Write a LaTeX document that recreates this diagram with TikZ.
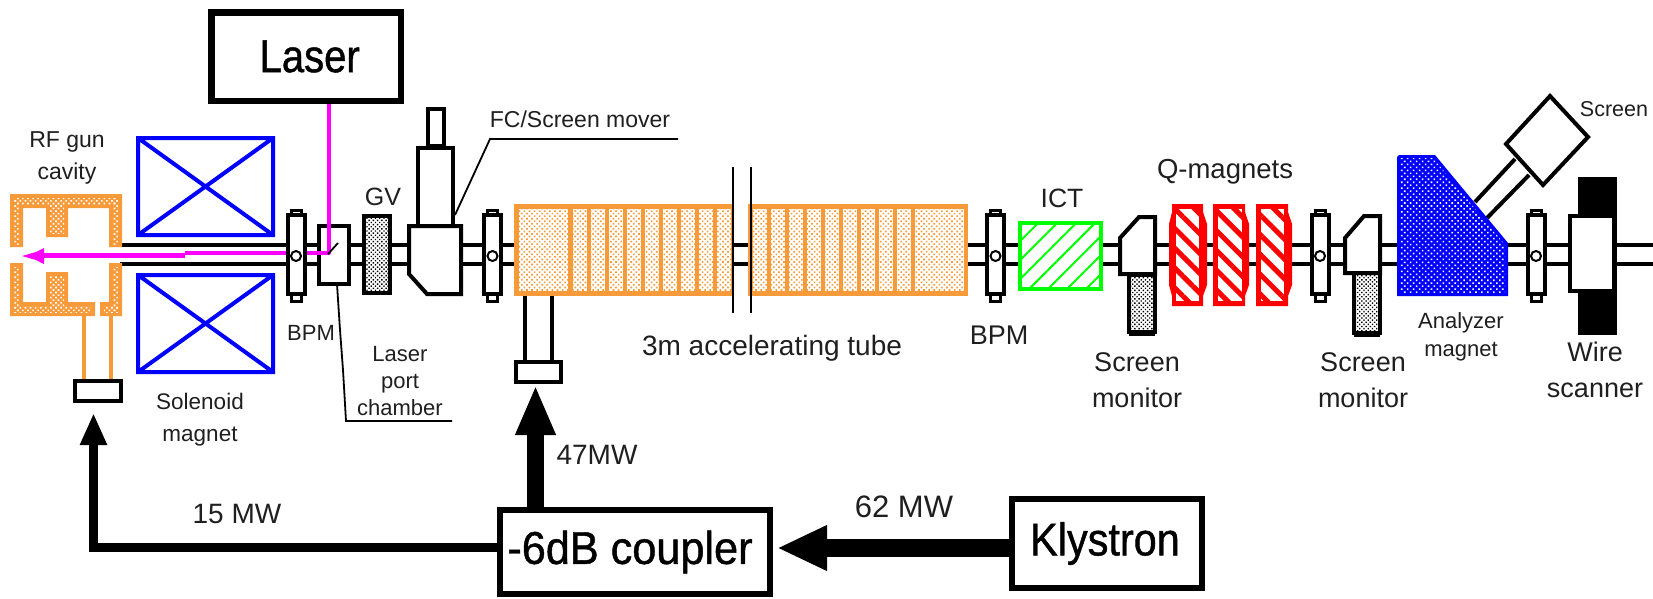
\documentclass[tikz,border=0pt]{standalone}
\usepackage{fontspec}
\setmainfont{Liberation Sans}
\newfontfamily\bigfont[FakeBold=1]{Liberation Sans}
\usetikzlibrary{arrows.meta,patterns.meta,calc}
\definecolor{gunor}{HTML}{F79A3A}
\definecolor{mag}{HTML}{FF00FF}
\definecolor{grn}{HTML}{00FF00}
\newcommand\fs[2]{\fontsize{#1}{#2}\selectfont}
\tikzset{
  blk/.style={draw=black,line width=4pt,line join=miter,fill=white},
  bigbox/.style={draw=black,line width=6.5pt,fill=white,inner sep=0pt,outer sep=0pt,font=\bigfont\fs{46}{46}},
  feedbox/.style={draw=black,line width=4pt,fill=white,inner sep=0pt,outer sep=0pt},
  lbl/.style={inner sep=0pt,outer sep=0pt,align=center,text=black!88},
  leader/.style={draw=black,line width=1.8pt},
  pipe/.style={draw=black,line width=4pt},
  sole/.style={draw=blue,line width=4pt},
  ordots/.style={pattern={Dots[radius=1.15pt,distance=3.6pt,angle=45]},pattern color=#1},
  blkdots/.style={pattern={Dots[radius=1pt,distance=3pt,angle=45]},pattern color=black},
  feed/.style={draw=black,line width=#1},
}
\newcommand\bpm[1]{%
  \draw[blk,line width=3pt] ($(#1,0)+(-5,210.5)$) rectangle ($(#1,0)+(5,218)$);
  \draw[blk,line width=3pt] ($(#1,0)+(-5,290)$) rectangle ($(#1,0)+(5,301.5)$);
  \draw[blk] ($(#1,0)+(-8.5,215)$) rectangle ($(#1,0)+(8.5,294)$);
  \draw[black,line width=2pt,fill=white] (#1,256) circle (5);
}
% #1 outer left, #2 outer right, #3 left bulge, #4 right bulge, #5 inner left, #6 inner right
\newcommand\qmag[6]{%
  \path[fill=red] (#1,204) -- (#2,204) -- (#2,212) -- ($(#2,224)+(#4,0)$) -- ($(#2,285)+(#4,0)$) -- (#2,296) -- (#2,306)
    -- (#1,306) -- (#1,296) -- ($(#1,285)-(#3,0)$) -- ($(#1,224)-(#3,0)$) -- (#1,212) -- cycle;
  \path[fill=white] (#5,209) rectangle (#6,301);
  \path[pattern={Lines[angle=-45,distance=14pt,line width=5pt]},pattern color=red] (#5,209) rectangle (#6,301);
}
\begin{document}
\begin{tikzpicture}[x=1pt,y=-1pt]
\useasboundingbox[fill=white] (0,0) rectangle (1653,598);

% beam pipe
\draw[pipe] (120,245) -- (1653,245);
\draw[pipe] (120,264) -- (1653,264);

% RF gun cavity
\path[fill=gunor] (10,194) -- (122,194) -- (122,247) -- (109,247) -- (109,208) -- (68,208) -- (68,237) -- (46,237) -- (46,208) -- (23,208) -- (23,247) -- (10,247) -- cycle;
\path[fill=gunor] (10,263) -- (23,263) -- (23,302) -- (46,302) -- (46,272) -- (68,272) -- (68,302) -- (95,302) -- (95,316) -- (10,316) -- cycle;
\path[fill=gunor] (100,316) -- (100,302) -- (109,302) -- (109,263) -- (122,263) -- (122,316) -- cycle;
\path[ordots=white] (14,198) rectangle (118,204);
\path[ordots=white] (14,198) rectangle (19,244);
\path[ordots=white] (113,198) rectangle (118,244);
\path[ordots=white] (50,204) rectangle (64,233);
\path[ordots=white] (14,267) rectangle (19,312);
\path[ordots=white] (14,306) rectangle (91,312);
\path[ordots=white] (50,276) rectangle (64,306);
\path[ordots=white] (113,267) rectangle (118,312);
\path[ordots=white] (104,306) rectangle (118,312);
\draw[gunor,line width=4pt] (84,316) -- (84,381);
\draw[gunor,line width=4pt] (111,316) -- (111,381);
\node[feedbox,minimum width=46pt,minimum height=20pt] (gunfeed) at (98,391) {};

% solenoids
\draw[sole] (138,138) rectangle (273,235) (138,138) -- (273,235) (138,235) -- (273,138);
\draw[sole] (138,275) rectangle (273,372) (138,275) -- (273,372) (138,372) -- (273,275);

% laser port chamber
\node[blk,inner sep=0pt,outer sep=0pt,minimum width=30pt,minimum height=58pt] (chamber) at (334,255) {};

% laser and its beam
\node[bigbox,minimum width=189.5pt,minimum height=88.5pt] (laser) at (306,56.5) {\hspace{7.4pt}\scalebox{.87}[1]{Laser}};
\coordinate (beamtop) at (329,104);
\coordinate (beamturn) at (329,253);
\coordinate (beamjog) at (185,253);
\coordinate (beamjoga) at (185,255.5);
\coordinate (beamend) at (40,255.5);
\draw[mag,line width=4pt,line join=round] (beamtop) -- (beamturn) -- (beamjog);
\draw[mag,line width=5pt] (beamjoga) -- (beamend);
\path[fill=mag] (22,256) -- (36,252) -- (44,248) -- (44,264) -- (36,260) -- cycle;
\draw[black,line width=1.8pt] (328,254) -- (338,243);

% BPMs
\bpm{296}
\bpm{492.5}
\bpm{995.5}
\bpm{1320}
\bpm{1536}

% gate valve
\path[fill=white] (364,216) rectangle (390,293);
\path[blkdots] (364,216) rectangle (390,293);
\draw[black,line width=4pt] (364,216) rectangle (390,293);

% FC / screen mover
\draw[blk] (427.5,109) rectangle (444,146);
\draw[blk] (418,148) rectangle (453,226);
\draw[blk] (409,226) -- (461,226) -- (461,294) -- (427,294) -- (409,274) -- cycle;
\coordinate (moverc) at (455,215);
\coordinate (moverk) at (490,139);
\coordinate (moverr) at (678,139);
\draw[leader] (moverc) -- (moverk) -- (moverr);

% accelerating tube
\path[fill=gunor] (514,204) rectangle (733,296);
\path[fill=gunor] (748,204) rectangle (968,296);
\path[fill=white] (519,209) rectangle (568,291);
\foreach \c in {573,591,609,627,645,663,681,699,717}{\path[fill=white] (\c,209) rectangle ({\c+14},291);}
\foreach \c in {753,771,789,807,825,843,861,879,897}{\path[fill=white] (\c,209) rectangle ({\c+14},291);}
\path[fill=white] (915,209) rectangle (964,291);
\path[ordots=gunor] (519,209) rectangle (568,291);
\foreach \c in {573,591,609,627,645,663,681,699,717}{\path[ordots=gunor] (\c,209) rectangle ({\c+14},291);}
\foreach \c in {753,771,789,807,825,843,861,879,897}{\path[ordots=gunor] (\c,209) rectangle ({\c+14},291);}
\path[ordots=gunor] (915,209) rectangle (964,291);
\draw[black,line width=2pt] (733,167) -- (733,313);
\draw[black,line width=2pt] (751,167) -- (751,313);
\draw[black,line width=4pt] (525,296) -- (525,361);
\draw[black,line width=4pt] (552,296) -- (552,361);
\node[feedbox,minimum width=45pt,minimum height=20pt] (tubefeed) at (538.5,372) {};

% ICT
\path[fill=white] (1020,223) rectangle (1101,289);
\path[pattern={Lines[angle=45,distance=13.4pt,line width=2pt]},pattern color=grn] (1020,223) rectangle (1101,289);
\draw[grn,line width=4pt] (1020,223) rectangle (1101,289);

% screen monitor 1
\path[fill=white] (1129,275) rectangle (1155,332);
\path[blkdots] (1129,275) rectangle (1155,332);
\draw[black,line width=4pt] (1129,275) rectangle (1155,332);
\draw[black,line width=5pt] (1129,333) -- (1155,333);
\draw[blk] (1120,238) -- (1139,217) -- (1155,217) -- (1155,274) -- (1120,274) -- cycle;

% Q magnets
\qmag{1172}{1203}{3}{4}{1176}{1199}
\qmag{1213}{1245}{0}{4}{1218}{1242}
\qmag{1256}{1288}{0}{4}{1261}{1284}

% screen monitor 2
\path[fill=white] (1354,273) rectangle (1380,333);
\path[blkdots] (1354,273) rectangle (1380,333);
\draw[black,line width=4pt] (1354,273) rectangle (1380,333);
\draw[black,line width=5pt] (1354,334) -- (1380,334);
\draw[blk] (1345,238) -- (1364,216) -- (1380,216) -- (1380,273) -- (1345,273) -- cycle;

% screen arm
\coordinate (arma) at (1475,202);
\coordinate (armb) at (1515,159);
\coordinate (armc) at (1487,218);
\coordinate (armd) at (1529,175);
\draw[black,line width=4pt] (arma) -- (armb);
\draw[black,line width=4pt] (armc) -- (armd);
\draw[blk] (1550,96) -- (1588,137) -- (1543,185) -- (1506,144) -- cycle;

% analyzer magnet
\path[fill=blue] (1397,157) -- (1399,155) -- (1435,155) -- (1508,243) -- (1508,296) -- (1397,296) -- cycle;
\path[pattern={Dots[radius=1.1pt,distance=4.2pt,angle=45]},pattern color=white] (1400,158) -- (1433,158) -- (1505,245) -- (1505,293) -- (1400,293) -- cycle;

% wire scanner
\path[fill=black] (1578,177) rectangle (1617,335);
\draw[blk] (1570,216) rectangle (1614,291);

% power feeds
\node[bigbox,minimum width=270pt,minimum height=84pt] (coupler) at (635,552) {\hspace{-10pt}\scalebox{.94}[1]{-6dB coupler}};
\node[bigbox,minimum width=190pt,minimum height=89pt] (klystron) at (1107,543.5) {\hspace{-4pt}\scalebox{.9}[1]{Klystron}};
\coordinate (kl) at (1009,548);
\coordinate (kr) at (777,548);
\coordinate (cu) at (535.5,507);
\coordinate (tu) at (535.5,385);
\coordinate (cl) at (497,547);
\coordinate (lc) at (93.5,547);
\coordinate (lu) at (93.5,413);
\draw[feed=18pt,-{Triangle[length=50pt,width=42pt]}] (kl) -- (kr);
\draw[feed=17pt,-{Triangle[length=50pt,width=37pt]}] (cu) -- (tu);
\draw[feed=9pt,-{Triangle[length=32pt,width=25pt]},line join=miter] (cl) -- (lc) -- (lu);

% labels
\node[lbl,font=\fs{23}{32}] (t1) at (67,157.5) {RF gun\\cavity};
\node[lbl,font=\fs{22.5}{32}] (t2) at (200,419.5) {Solenoid\\magnet};
\node[lbl,font=\fs{22}{26}] (t3) at (311,333) {BPM};
\coordinate (lpb) at (340,330);
\coordinate (lpc) at (343,370);
\coordinate (lpd) at (346,421);
\coordinate (lpe) at (452,421);
\draw[leader] (chamber.south) ++(3,0) -- (lpb) -- (lpc) -- (lpd) -- (lpe);
\node[lbl,font=\fs{22}{27}] (t4) at (400,381) {Laser\\port\\chamber};
\node[lbl,font=\fs{25}{27}] (t5) at (383,197) {GV};
\node[lbl,font=\fs{23}{27}] (t6) at (580,119) {FC/Screen mover};
\node[lbl,font=\fs{28}{32}] (t7) at (772,348) {3m accelerating tube};
\node[lbl,font=\fs{27}{32}] (t8) at (999,335) {BPM};
\node[lbl,font=\fs{26.5}{32}] (t9) at (1062,198) {ICT};
\node[lbl,font=\fs{27.5}{32}] (t10) at (1225,172) {Q-magnets};
\node[lbl,font=\fs{27}{36}] (t11) at (1137,380) {Screen\\monitor};
\node[lbl,font=\fs{27}{36}] (t12) at (1363,380) {Screen\\monitor};
\node[lbl,font=\fs{22}{28}] (t13) at (1461,337) {Analyzer\\magnet};
\node[lbl,font=\fs{27}{36}] (t14) at (1595,370) {Wire\\scanner};
\node[lbl,font=\fs{21.5}{26}] (t15) at (1614,109) {Screen};
\node[lbl,font=\fs{28}{32}] (t16) at (237,514) {15 MW};
\node[lbl,font=\fs{28}{32}] (t17) at (597,455) {47MW};
\node[lbl,font=\fs{31}{34}] (t18) at (904,507) {62 MW};
\end{tikzpicture}
\end{document}
